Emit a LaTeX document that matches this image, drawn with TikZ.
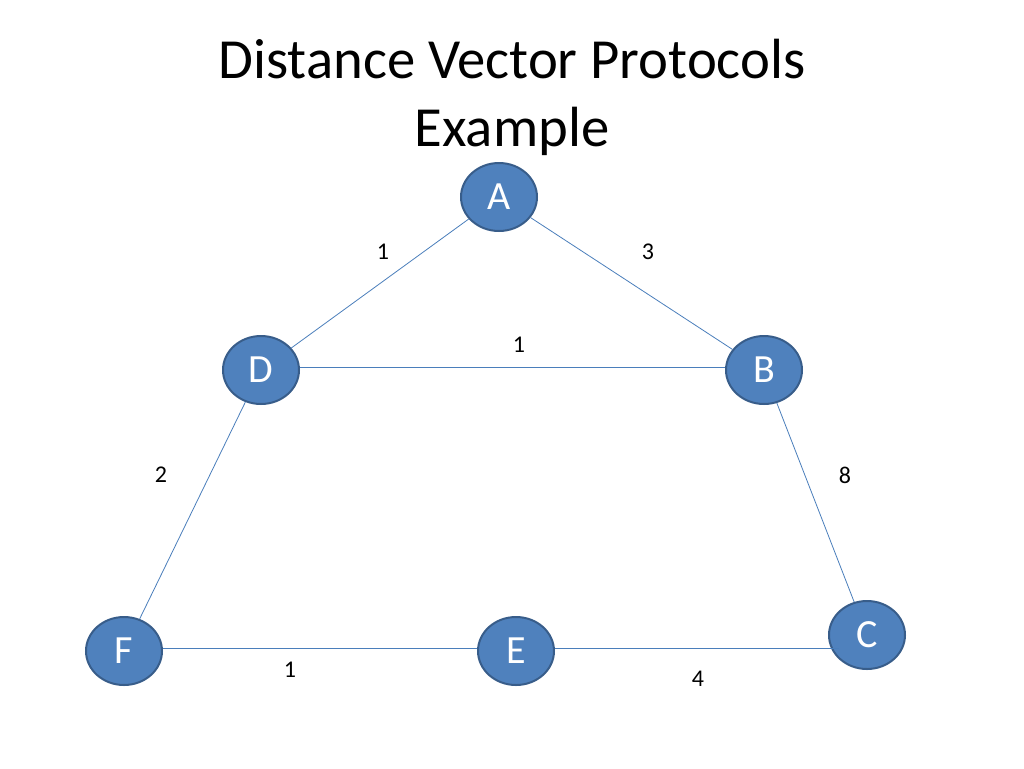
\documentclass[tikz,border=0pt]{standalone}
\usepackage{fontspec}
\setmainfont{Carlito}
\usetikzlibrary{shapes.geometric}
\definecolor{nodeblue}{HTML}{4F81BD}
\definecolor{nodeedge}{HTML}{385D8A}
\definecolor{linkblue}{HTML}{4A7EBB}
\begin{document}
\begin{tikzpicture}[x=0.75pt,y=-0.75pt,
  router/.style={ellipse, fill=nodeblue, draw=nodeedge, line width=1.5pt, text=white,
    minimum width=57pt, minimum height=51pt, inner sep=0pt, font=\fontsize{30}{32}\selectfont},
  link/.style={draw=linkblue, line width=0.6pt},
  cost/.style={font=\fontsize{18}{20}\selectfont}]
\useasboundingbox (0,0) rectangle (1024,768);
\node[align=center, font=\fontsize{42.5}{51}\selectfont] (title) at (512,97){Distance Vector Protocols\\Example};
\node[router] (nA) at (499,197){A};
\node[router] (nD) at (261,370){D};
\node[router] (nB) at (764,370){B};
\node[router] (nF) at (124,651){F};
\node[router] (nE) at (516,651){E};
\node[router] (nC) at (867,635){C};
\draw[link](nA) -- (nD);
\draw[link](nA) -- (nB);
\draw[link](nD.east |- 0,367) -- (nB.west |- 0,367);
\draw[link](nD) -- (nF);
\draw[link](nB) -- (nC);
\draw[link](nF.east |- 0,648) -- (nE.west |- 0,648);
\draw[link](nE.east |- 0,648) -- (nC.south west |- 0,648);
\node[cost] (cAD) at (383,252){1};
\node[cost] (cAB) at (648,252){3};
\node[cost] (cDB) at (519,345){1};
\node[cost] (cDF) at (161,475){2};
\node[cost] (cBC) at (845,475){8};
\node[cost] (cFE) at (290,670){1};
\node[cost] (cEC) at (698,679){4};
\end{tikzpicture}
\end{document}
